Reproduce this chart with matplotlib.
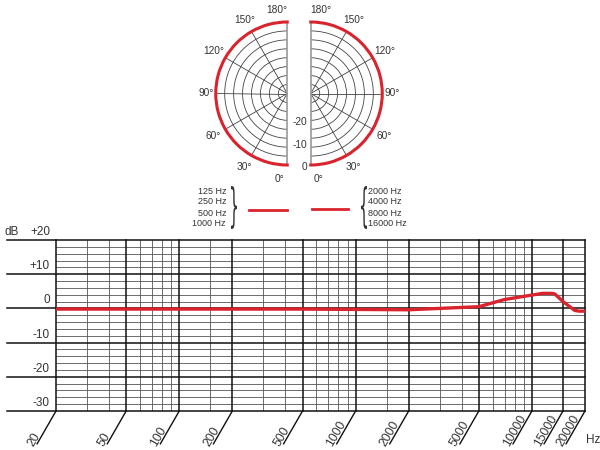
import numpy as np
import matplotlib
matplotlib.use('Agg')
import matplotlib.pyplot as plt
from matplotlib.lines import Line2D
from matplotlib.patches import PathPatch
from matplotlib.textpath import TextPath
from matplotlib.font_manager import FontProperties
from matplotlib.transforms import Affine2D

# frequency response (dB vs Hz)
freq_hz = [20, 100, 500, 1000, 2000, 3000, 5000, 7000, 10000, 11500,
           13000, 13500, 15000, 17500, 18500, 20000]
level_db = [-0.2, -0.2, -0.2, -0.3, -0.4, 0.0, 0.5, 2.6, 3.9, 4.4,
            4.4, 4.2, 2.0, -0.6, -0.8, -0.8]

# polar pattern (omni), left half = low bands, right half = high bands
polar_deg = [0, 30, 60, 90, 120, 150, 180]
polar_low_db = [0, 0, 0, 0, 0, 0, 0]
polar_high_db = [0, 0, 0, 0, 0, 0, 0]

low_bands = ['125 Hz', '250 Hz', '500 Hz', '1000 Hz']
high_bands = ['2000 Hz', '4000 Hz', '8000 Hz', '16000 Hz']

# grid / tick definitions
freq_labels = [20, 50, 100, 200, 500, 1000, 2000, 5000, 10000, 15000, 20000]
freq_minor = [30, 40, 60, 70, 80, 90, 150, 300, 400, 600, 700, 800, 900,
              1500, 3000, 4000, 6000, 7000, 8000, 9000]
db_major = [20, 10, 0, -10, -20, -30]
db_labels = ['+20', '+10', '0', '-10', '-20', '-30']
db_minor = [18, 16, 14, 12, 8, 6, 4, 2, -2, -4, -6, -8, -12, -14, -16, -18,
            -22, -24, -26, -28]
ring_db = [-28, -24, -20, -16, -12, -8, -4]
ring_labels = [0, -10, -20]
spoke_deg = [30, 60, 90, 120, 150]

RED = '#d9232d'
TXT = '#333333'
W, H = 600, 450

plt.rcParams['font.family'] = ['Liberation Sans', 'DejaVu Sans']
plt.rcParams['text.color'] = TXT

fig = plt.figure(figsize=(6, 4.5), dpi=100)


def box(x0, y0, x1, y1):
    """pixel box (top-left origin) -> figure fraction rect"""
    return [x0 / W, 1 - y1 / H, (x1 - x0) / W, (y1 - y0) / H]


def fpx(x, y):
    return x / W, 1 - y / H


# ---------------- frequency response ----------------
ax = fig.add_axes(box(56, 240, 585, 411))
ax.set_xscale('log')
ax.set_xlim(20, 20000)
ax.set_ylim(-30, 20)
ax.set_axis_off()

for y in db_minor:
    ax.axhline(y, color='#555555', lw=0.6)
for f in freq_minor:
    ax.axvline(f, color='#555555', lw=0.6)
for f in freq_labels:
    ax.axvline(f, color='#111111', lw=1.1, clip_on=False)
for y in db_major:
    ax.axhline(y, xmin=-0.093, xmax=1, color='#111111', lw=1.1, clip_on=False)

ax.plot(freq_hz, level_db, color=RED, lw=2.4, solid_capstyle='butt',
        clip_on=False, zorder=5)

for f in freq_labels:
    ax.annotate('', xy=(f, -30), xytext=(-19, -33), textcoords='offset pixels',
                annotation_clip=False,
                arrowprops=dict(arrowstyle='-', color='#111111', lw=1.0,
                                shrinkA=0, shrinkB=0))
    ax.annotate(str(f), xy=(f, -30), xytext=(-23, -36), textcoords='offset pixels',
                rotation=60, rotation_mode='anchor', ha='left', va='baseline',
                fontsize=8.8, annotation_clip=False)

for y, lab in zip(db_major, db_labels):
    ax.annotate(lab, xy=(20, y), xytext=(-6, 2), textcoords='offset pixels',
                ha='right', va='bottom', fontsize=8.5, annotation_clip=False)
ax.annotate('dB', xy=(20, 20), xytext=(-51, 2), textcoords='offset pixels',
            ha='left', va='bottom', fontsize=8.5, annotation_clip=False)
ax.annotate('Hz', xy=(20000, -30), xytext=(8, -29), textcoords='offset pixels',
            ha='center', va='center', fontsize=8.5, annotation_clip=False)


# ---------------- polar pattern ----------------
# a half wedge is centred inside a square box, so the box is 2x the wedge width
def half_polar(rect, direction, values):
    pa = fig.add_axes(rect, projection='polar')
    pa.set_theta_zero_location('S')
    pa.set_theta_direction(direction)
    pa.set_thetamin(0)
    pa.set_thetamax(180)
    pa.set_rlim(-32, 0)
    pa.set_rticks(ring_db)
    pa.set_yticklabels([])
    pa.set_thetagrids(spoke_deg, labels=[''] * len(spoke_deg))
    pa.grid(True, color='#444444', lw=0.6)
    pa.spines['polar'].set_visible(False)
    pa.spines['inner'].set_visible(False)
    for s in ('start', 'end'):
        pa.spines[s].set_color('#999999')
        pa.spines[s].set_linewidth(1.2)
    pa.patch.set_alpha(0)
    ln, = pa.plot(np.deg2rad(polar_deg), values, color=RED, lw=2.2,
                  clip_on=False, zorder=5)
    ln.get_path()._interpolation_steps = 40
    for a in spoke_deg:
        r = 4.5 if a == 90 else 6.2
        pa.text(np.deg2rad(a), r, f'{a}°', ha='center', va='center',
                fontsize=7.3, clip_on=False)
    pa.text(np.deg2rad(5), 6.4, '0°', ha='center', va='center', fontsize=7.3,
            clip_on=False)
    pa.text(np.deg2rad(173), 5.8, '180°', ha='center', va='center',
            fontsize=7.3, clip_on=False)
    return pa


pl = half_polar(box(180, 22, 323, 165), -1, polar_low_db)
pr = half_polar(box(275, 22, 418, 165), 1, polar_high_db)
for v in ring_labels:
    pr.annotate(str(v), xy=(0, v), xytext=(-4, -2), textcoords='offset pixels',
                ha='right', va='center', fontsize=7.3, annotation_clip=False)


# ---------------- band legend ----------------
def brace(ch, x0, y0, x1, y1):
    tp = TextPath((0, 0), ch, size=1, prop=FontProperties(family='DejaVu Sans'))
    ext = tp.get_extents()
    tr = (Affine2D().translate(-ext.x0, -ext.y0)
          .scale((x1 - x0) / ext.width, (y1 - y0) / ext.height)
          .translate(x0, H - y1))
    fig.add_artist(PathPatch(tp, transform=tr, fc=TXT, ec='none'))


for i, (lo, hi) in enumerate(zip(low_bands, high_bands)):
    y = 191 + 11 * i
    fig.text(*fpx(226, y), lo, ha='right', va='center', fontsize=6.5)
    fig.text(*fpx(368, y), hi, ha='left', va='center', fontsize=6.5)
brace('}', 231, 186, 237, 229)
brace('{', 361, 186, 367, 229)
fig.add_artist(Line2D([249 / W, 287 / W], [1 - 210 / H] * 2,
                      transform=fig.transFigure, color=RED, lw=2))
fig.add_artist(Line2D([312 / W, 348 / W], [1 - 209 / H] * 2,
                      transform=fig.transFigure, color=RED, lw=2))

fig.savefig('out.png', dpi=100)
